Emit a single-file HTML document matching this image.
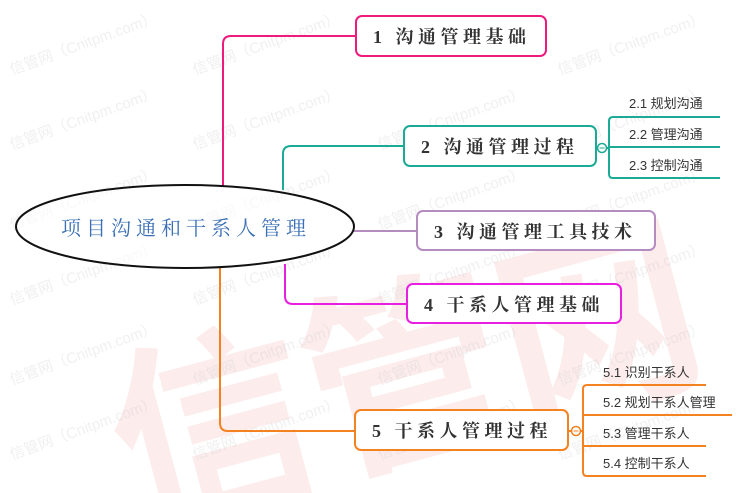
<!DOCTYPE html>
<html><head><meta charset="utf-8"><style>
html,body{margin:0;padding:0;background:#fff;width:750px;height:493px;overflow:hidden;}
svg{display:block;}
</style></head><body>
<svg width="750" height="493" xmlns="http://www.w3.org/2000/svg">
<!-- big watermark -->
<g opacity="0.08" fill="#e02020" font-family="'WenQuanYi Zen Hei','Noto Sans CJK SC',sans-serif" font-weight="bold">
<text x="90" y="450" font-size="200" transform="rotate(-15 390 320)">信管网</text>
</g>
<!-- small watermarks -->
<g fill="#cccccc" opacity="0.3" font-family="'Liberation Sans','Noto Sans CJK SC',sans-serif" font-size="15">
<text transform="translate(12,75) rotate(-20)">信管网（Cnitpm.com）</text>
<text transform="translate(195,75) rotate(-20)">信管网（Cnitpm.com）</text>
<text transform="translate(560,75) rotate(-20)">信管网（Cnitpm.com）</text>
<text transform="translate(12,150) rotate(-20)">信管网（Cnitpm.com）</text>
<text transform="translate(195,150) rotate(-20)">信管网（Cnitpm.com）</text>
<text transform="translate(380,150) rotate(-20)">信管网（Cnitpm.com）</text>
<text transform="translate(560,150) rotate(-20)">信管网（Cnitpm.com）</text>
<text transform="translate(12,230) rotate(-20)">信管网（Cnitpm.com）</text>
<text transform="translate(195,230) rotate(-20)">信管网（Cnitpm.com）</text>
<text transform="translate(380,230) rotate(-20)">信管网（Cnitpm.com）</text>
<text transform="translate(560,230) rotate(-20)">信管网（Cnitpm.com）</text>
<text transform="translate(12,305) rotate(-20)">信管网（Cnitpm.com）</text>
<text transform="translate(195,305) rotate(-20)">信管网（Cnitpm.com）</text>
<text transform="translate(380,305) rotate(-20)">信管网（Cnitpm.com）</text>
<text transform="translate(560,305) rotate(-20)">信管网（Cnitpm.com）</text>
<text transform="translate(12,385) rotate(-20)">信管网（Cnitpm.com）</text>
<text transform="translate(195,385) rotate(-20)">信管网（Cnitpm.com）</text>
<text transform="translate(380,385) rotate(-20)">信管网（Cnitpm.com）</text>
<text transform="translate(560,385) rotate(-20)">信管网（Cnitpm.com）</text>
<text transform="translate(12,460) rotate(-20)">信管网（Cnitpm.com）</text>
<text transform="translate(195,460) rotate(-20)">信管网（Cnitpm.com）</text>
<text transform="translate(380,460) rotate(-20)">信管网（Cnitpm.com）</text>
<text transform="translate(560,460) rotate(-20)">信管网（Cnitpm.com）</text>
</g>
<!-- connectors -->
<g fill="none" stroke-width="2">
<path d="M223,186 V44 Q223,36 231,36 H356" stroke="#ee1b7c"/>
<path d="M283,190 V154 Q283,146 291,146 H404" stroke="#1aaa96"/>
<path d="M352,231 H417" stroke="#b58cc0"/>
<path d="M285,264 V296 Q285,304 293,304 H407" stroke="#e81ee0"/>
<path d="M220,268 V423 Q220,431 228,431 H355" stroke="#f58220"/>
<path d="M596,148 H609 M720,117 H613 Q609,117 609,121 V174 Q609,178 613,178 H720 M609,147 H720" stroke="#1aaa96"/>
<path d="M568,431 H583 M706,385 H587 Q583,385 583,389 V472 Q583,476 587,476 H706 M583,415 H732 M583,446 H706" stroke="#f58220"/>
</g>
<circle cx="602" cy="148" r="4.5" fill="#fff" stroke="#1aaa96" stroke-width="1.5"/>
<line x1="599.5" y1="148" x2="604.5" y2="148" stroke="#1aaa96" stroke-width="1"/>
<circle cx="576" cy="431" r="4.5" fill="#fff" stroke="#f58220" stroke-width="1.5"/>
<line x1="573.5" y1="431" x2="578.5" y2="431" stroke="#f58220" stroke-width="1"/>
<!-- ellipse -->
<ellipse cx="185" cy="226.5" rx="169" ry="41.5" fill="#fff" fill-opacity="0.6" stroke="#111" stroke-width="2"/>
<text x="186" y="235" text-anchor="middle" font-family="'Liberation Serif','Noto Serif CJK SC',serif" font-size="20" letter-spacing="5" fill="#3a6fb5">项目沟通和干系人管理</text>
<!-- nodes -->
<g fill="#fff" stroke-width="2">
<rect x="356" y="16" width="190" height="40" rx="6" stroke="#ee1b7c"/>
<rect x="404" y="126" width="192" height="40" rx="6" stroke="#1aaa96"/>
<rect x="417" y="211" width="238" height="39" rx="6" stroke="#b58cc0"/>
<rect x="407" y="284" width="214" height="39" rx="6" stroke="#e81ee0"/>
<rect x="355" y="410" width="213" height="40" rx="6" stroke="#f58220"/>
</g>
<g font-family="'Liberation Serif','Noto Serif CJK SC',serif" font-size="18" font-weight="bold" fill="#333" letter-spacing="4.5">
<text x="373" y="43">1 沟通管理基础</text>
<text x="421" y="153">2 沟通管理过程</text>
<text x="434" y="238">3 沟通管理工具技术</text>
<text x="424" y="311">4 干系人管理基础</text>
<text x="372" y="437">5 干系人管理过程</text>
</g>
<g font-family="'Liberation Sans','Noto Sans CJK SC',sans-serif" font-size="13" fill="#333">
<text x="629" y="108">2.1  规划沟通</text>
<text x="629" y="139">2.2  管理沟通</text>
<text x="629" y="170">2.3  控制沟通</text>
<text x="603" y="377">5.1  识别干系人</text>
<text x="603" y="407">5.2  规划干系人管理</text>
<text x="603" y="438">5.3  管理干系人</text>
<text x="603" y="468">5.4  控制干系人</text>
</g>
</svg>
</body></html>
